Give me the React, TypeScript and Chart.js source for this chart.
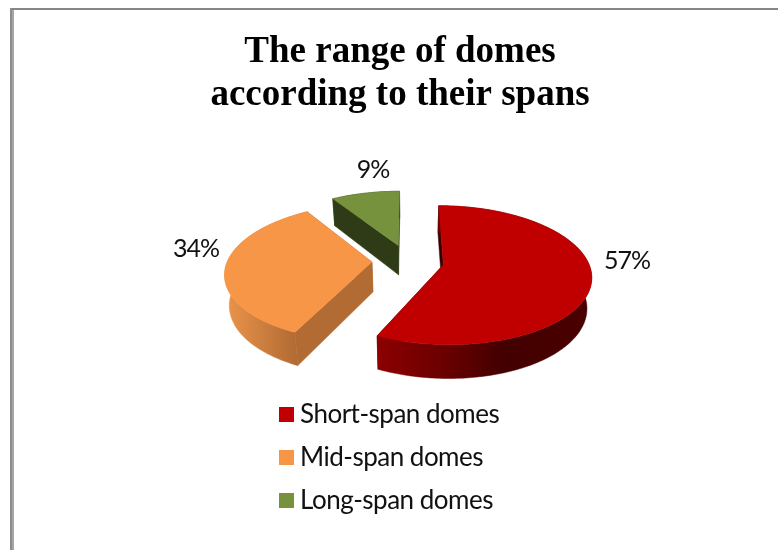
import React, { useEffect, useRef } from "react";
import { Chart, registerables } from "chart.js";

Chart.register(...registerables);

const titleLines = ["The range of domes", "according to their spans"];
const categories = ["Short-span domes", "Mid-span domes", "Long-span domes"];
const shares = [57, 34, 9];
const topColors = ["#C00000", "#F79646", "#76923C"];

// Styling of the 3D look and placement (page coordinates)
const CANVAS_LEFT = 22;
const CANVAS_WIDTH = 756;
const CANVAS_HEIGHT = 550;
const CENTER = { x: 408, y: 261 };
const PERSP = 0.00104;
const TILT = 0.462;
const DEPTH = 30;
const BOTTOM_SHRINK = 0.974;
const PCT_FONT = "25px Lato";
const LEGEND_FONT = "26px Lato";
const PCT_SPACING = "-1px";
const LEGEND_SPACING = "-0.5px";
const pctAnchors = [
  { x: 627, y: 261 },
  { x: 196, y: 249 },
  { x: 373, y: 170 },
];
const legendLayout = { swatchX: 279, swatchSize: 15, textX: 300, firstY: 415, rowGap: 43 };
const wallStops: [number, string][][] = [
  [[0, "#8C0000"], [0.35, "#660000"], [0.6, "#430000"], [1, "#4A0000"]],
  [[0, "#E8924A"], [1, "#B06A32"]],
  [[0, "#2F3A16"], [1, "#2F3A16"]],
];
const cutColors = ["#3A0000", "#B26C33", "#2F3A16"];

type P = { x: number; y: number };

function project(X: number, Y: number, bottom: boolean): P {
  const w = 1 - PERSP * Y;
  const s = 1 / w;
  const ty = (TILT * Y) / w;
  const tx = X * s;
  if (!bottom) return { x: CENTER.x - CANVAS_LEFT + tx, y: CENTER.y + ty };
  return {
    x: CENTER.x - CANVAS_LEFT + tx * BOTTOM_SHRINK,
    y: CENTER.y + ty + DEPTH * Math.pow(s, 0.7),
  };
}

function poly(ctx: CanvasRenderingContext2D, pts: P[], fill: string | CanvasGradient) {
  ctx.beginPath();
  pts.forEach((p, i) => (i ? ctx.lineTo(p.x, p.y) : ctx.moveTo(p.x, p.y)));
  ctx.closePath();
  ctx.fillStyle = fill;
  ctx.strokeStyle = fill;
  ctx.lineWidth = 0.5;
  ctx.fill();
  ctx.stroke();
}

const pie3d = {
  id: "pie3d",
  beforeDatasetsDraw(chart: any) {
    const ctx: CanvasRenderingContext2D = chart.ctx;
    const meta = chart.getDatasetMeta(0);
    const order = [2, 1, 0];
    order.forEach((i) => {
      const el = meta.data[i];
      const start = el.startAngle;
      const end = el.endAngle;
      const mid = (start + end) / 2;
      const R = el.outerRadius;
      const d = (el.options.offset || 0) / 4;
      const ox = Math.cos(mid) * d;
      const oy = Math.sin(mid) * d;
      const steps = Math.max(8, Math.round(((end - start) * 180) / Math.PI));
      const angles: number[] = [];
      for (let k = 0; k <= steps; k++) angles.push(start + ((end - start) * k) / steps);
      const at = (a: number, bottom: boolean) =>
        project(ox + R * Math.cos(a), oy + R * Math.sin(a), bottom);
      const apexT = project(ox, oy, false);
      const apexB = project(ox, oy, true);

      // cut faces
      poly(ctx, [apexT, at(start, false), at(start, true), apexB], cutColors[i]);
      poly(ctx, [apexT, at(end, false), at(end, true), apexB], cutColors[i]);

      // outer wall
      const topArc = angles.map((a) => at(a, false));
      const botArc = angles.map((a) => at(a, true));
      const xs = topArc.map((p) => p.x);
      const front = angles.filter((a) => Math.sin(a) > -0.05).map((a) => at(a, true).x);
      const minX = Math.min(...(front.length ? front : xs));
      const maxX = Math.max(...(front.length ? front : xs));
      const grad = ctx.createLinearGradient(minX, 0, maxX, 0);
      wallStops[i].forEach(([o, c]) => grad.addColorStop(o, c));
      poly(ctx, [...topArc, ...botArc.slice().reverse()], grad);

      // top face
      poly(ctx, [apexT, ...topArc], el.options.backgroundColor);
    });
    return false;
  },
  afterDraw(chart: any) {
    const ctx: any = chart.ctx;
    const ds = chart.data.datasets[0];
    ctx.save();
    ctx.fillStyle = "#111111";
    ctx.font = PCT_FONT;
    ctx.letterSpacing = PCT_SPACING;
    ctx.textAlign = "center";
    ctx.textBaseline = "middle";
    ds.data.forEach((v: number, i: number) => {
      ctx.fillText(v + "%", pctAnchors[i].x - CANVAS_LEFT, pctAnchors[i].y);
    });
    ctx.font = LEGEND_FONT;
    ctx.letterSpacing = LEGEND_SPACING;
    ctx.textAlign = "left";
    chart.data.labels.forEach((label: string, i: number) => {
      const cy = legendLayout.firstY + i * legendLayout.rowGap;
      ctx.fillStyle = ds.backgroundColor[i];
      ctx.fillRect(
        legendLayout.swatchX - CANVAS_LEFT,
        cy - 0.5 - legendLayout.swatchSize / 2,
        legendLayout.swatchSize,
        legendLayout.swatchSize
      );
      ctx.fillStyle = "#111111";
      ctx.fillText(label, legendLayout.textX - CANVAS_LEFT, cy);
    });
    ctx.letterSpacing = "0px";
    ctx.restore();
  },
};

export default function App() {
  const ref = useRef<HTMLCanvasElement | null>(null);
  useEffect(() => {
    if (!ref.current) return;
    const chart = new Chart(ref.current, {
      type: "pie",
      data: {
        labels: categories,
        datasets: [
          {
            data: shares,
            backgroundColor: topColors,
            borderWidth: 0,
            offset: 144,
          },
        ],
      },
      options: {
        responsive: false,
        animation: false,
        events: [],
        layout: { padding: { left: 161, right: 161, top: 0, bottom: 0 } },
        plugins: {
          legend: { display: false },
          tooltip: { enabled: false },
          title: {
            display: true,
            text: titleLines,
            color: "#000000",
            font: { family: "'Liberation Serif'", size: 37, weight: "bold", lineHeight: 43 / 37 },
            padding: { top: 31, bottom: 0 },
          },
        },
      },
      plugins: [pie3d],
    } as any);
    return () => chart.destroy();
  }, []);
  return (
    <div style={{ position: "fixed", left: 0, top: 0, width: 778, height: 550, background: "#fff", overflow: "hidden" }}>
      <div style={{ position: "absolute", left: 10, top: 8, width: 768, height: 2, background: "#868686" }} />
      <div style={{ position: "absolute", left: 10, top: 8, width: 2, height: 542, background: "#8C8C8C" }} />
      <div style={{ position: "absolute", left: 12, top: 10, width: 2, height: 540, background: "#A6A6A6" }} />
      <canvas
        ref={ref}
        width={CANVAS_WIDTH}
        height={CANVAS_HEIGHT}
        style={{ position: "absolute", left: CANVAS_LEFT, top: 0 }}
      />
    </div>
  );
}
